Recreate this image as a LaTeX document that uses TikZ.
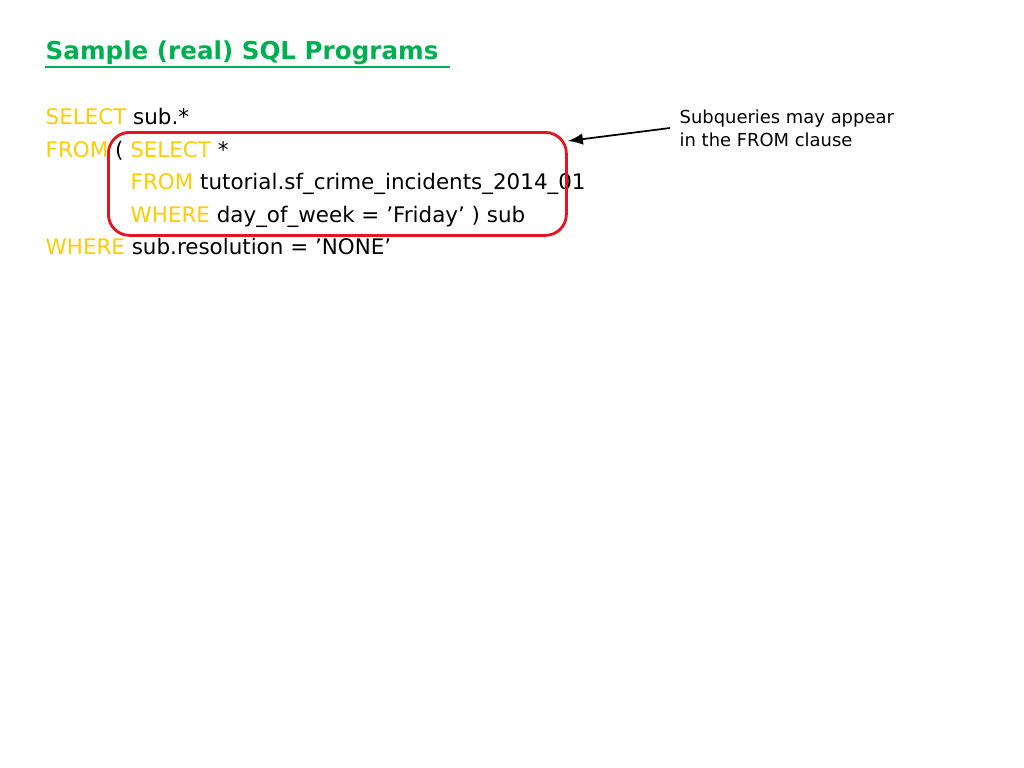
\documentclass[tikz,border=0pt]{standalone}
\usepackage{fontspec}
\setmainfont{DejaVu Sans}
\usetikzlibrary{positioning}
\definecolor{kwyellow}{RGB}{255,204,0}
\definecolor{titlegreen}{RGB}{0,176,80}
\definecolor{boxred}{RGB}{230,20,30}
\tikzset{
  code/.style={anchor=base west, inner sep=0pt, font=\fontsize{6.1pt}{7pt}\selectfont},
  note/.style={anchor=base west, inner sep=0pt, font=\fontsize{5.1pt}{6pt}\selectfont}
}
\newcommand{\kw}[1]{\textcolor{kwyellow}{#1}}
\begin{document}
\begin{tikzpicture}
\useasboundingbox (0,0) rectangle (10.24,-7.68);
% title
\node[anchor=base west, inner sep=0pt, text=titlegreen, font=\fontsize{7pt}{8pt}\selectfont\bfseries] (title) at (0.45,-0.60) {Sample (real) SQL Programs};
\draw[titlegreen, line width=0.6pt] (0.45,-0.67) -- (4.50,-0.67);
% query lines
\node[code] (l1) at (0.45,-1.245) {\kw{SELECT} sub.*};
\node[code] (l2) at (0.45,-1.57) {\kw{FROM} ( \kw{SELECT} *};
\node[code] (l3) at (1.30,-1.895) {\kw{FROM} tutorial.sf\_crime\_incidents\_2014\_01};
\node[code] (l4) at (1.30,-2.22) {\kw{WHERE} day\_of\_week = 'Friday' ) sub};
\node[code] (l5) at (0.45,-2.545) {\kw{WHERE} sub.resolution = 'NONE'};
% subquery box
\node[draw=boxred, line width=0.8pt, rounded corners=6pt, minimum width=4.58cm, minimum height=1.03cm, anchor=north west] (sub) at (1.07,-1.31) {};
% note
\node[note] (n1) at (6.79,-1.235) {Subqueries may appear};
\node[note] (n2) at (6.79,-1.465) {in the FROM clause};
\coordinate (tail) at (6.70,-1.28);
\draw[-latex, line width=0.5pt] (tail) -- (sub.north east |- 0,-1.41);
\end{tikzpicture}
\end{document}
